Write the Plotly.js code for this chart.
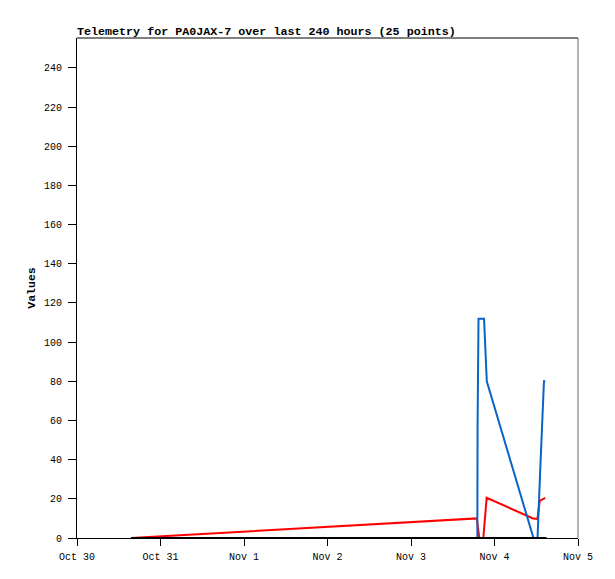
<!DOCTYPE html>
<html>
<head>
<meta charset="utf-8">
<script src="https://cdn.plot.ly/plotly-3.0.1.min.js"></script>
<style>html,body{margin:0;padding:0;background:#fff;}#chart{width:615px;height:579px;}</style>
</head>
<body>
<div id="chart"></div>
<script>
// Red series
const redTimes = ["2023-10-30 15:31","2023-11-03 18:54","2023-11-03 19:38","2023-11-03 20:47","2023-11-03 21:45","2023-11-04 11:05","2023-11-04 12:20","2023-11-04 13:00","2023-11-04 14:35"];
const redValues = [0, 10, 0, 0, 20.5, 10, 9.7, 19, 20.5];
// Blue series
const blueTimes = ["2023-10-30 15:31","2023-11-03 19:04","2023-11-03 19:08","2023-11-03 19:24","2023-11-03 21:00","2023-11-03 21:17","2023-11-03 21:47","2023-11-04 11:12","2023-11-04 12:22","2023-11-04 13:06","2023-11-04 13:40","2023-11-04 14:13","2023-11-04 14:36"];
const blueValues = [0, 0, 56, 112, 112, 96, 80, 0, 0, 33, 60, 80, 80];
// Black series
const blackTimes = ["2023-10-30 15:31","2023-11-04 14:57"];
const blackValues = [0, 0];
// Axis ticks
const xTickVals = ["2023-10-30","2023-10-31","2023-11-01","2023-11-02","2023-11-03","2023-11-04","2023-11-05"];
const xTickText = ["Oct 30","Oct 31","Nov 1","Nov 2","Nov 3","Nov 4","Nov 5"];
const yTickVals = [0,20,40,60,80,100,120,140,160,180,200,220,240];

const mono = "Liberation Mono, DejaVu Sans Mono, monospace";
const traces = [
  {x: redTimes, y: redValues, type: "scatter", mode: "lines", line: {color: "#ff0000", width: 2}, hoverinfo: "none"},
  {x: blueTimes, y: blueValues, type: "scatter", mode: "lines", line: {color: "#0a64c8", width: 2}, hoverinfo: "none"},
  {x: blackTimes, y: blackValues, type: "scatter", mode: "lines", line: {color: "#000000", width: 2}, hoverinfo: "none"}
];
const layout = {
  width: 615, height: 579,
  margin: {l: 77, r: 37, t: 38, b: 41},
  paper_bgcolor: "#fff", plot_bgcolor: "#fff",
  showlegend: false,
  title: {text: "<b>Telemetry for PA0JAX-7 over last 240 hours (25 points)</b>", x: 0, xanchor: "left", xref: "paper", y: 1 - 35/579, yanchor: "bottom", font: {family: mono, size: 11.7, color: "#000"}},
  xaxis: {
    type: "date", range: ["2023-10-30", "2023-11-05"],
    tickvals: xTickVals, ticktext: xTickText,
    showgrid: false, zeroline: false, showline: true, linecolor: "#000", linewidth: 1,
    ticks: "outside", ticklen: 7, tickcolor: "#000", ticklabelstandoff: 2,
    tickfont: {family: mono, size: 10, color: "#000"}
  },
  yaxis: {
    range: [0, 255.3], tickvals: yTickVals,
    showgrid: false, zeroline: false, showline: true, linecolor: "#000", linewidth: 1,
    ticks: "outside", ticklen: 8, tickcolor: "#000", ticklabelstandoff: 4,
    tickfont: {family: mono, size: 10, color: "#000"},
    title: {text: "<b>Values</b>", font: {family: mono, size: 11.5, color: "#000"}, standoff: 5}
  },
  shapes: [
    {type: "line", xref: "paper", yref: "paper", x0: 0, x1: 1, y0: 1, y1: 1, line: {color: "#000", width: 1}},
    {type: "line", xref: "paper", yref: "paper", x0: 1, x1: 1, y0: 0, y1: 1, line: {color: "#666", width: 1}}
  ]
};
Plotly.newPlot("chart", traces, layout, {staticPlot: true, displayModeBar: false});
</script>
</body>
</html>
